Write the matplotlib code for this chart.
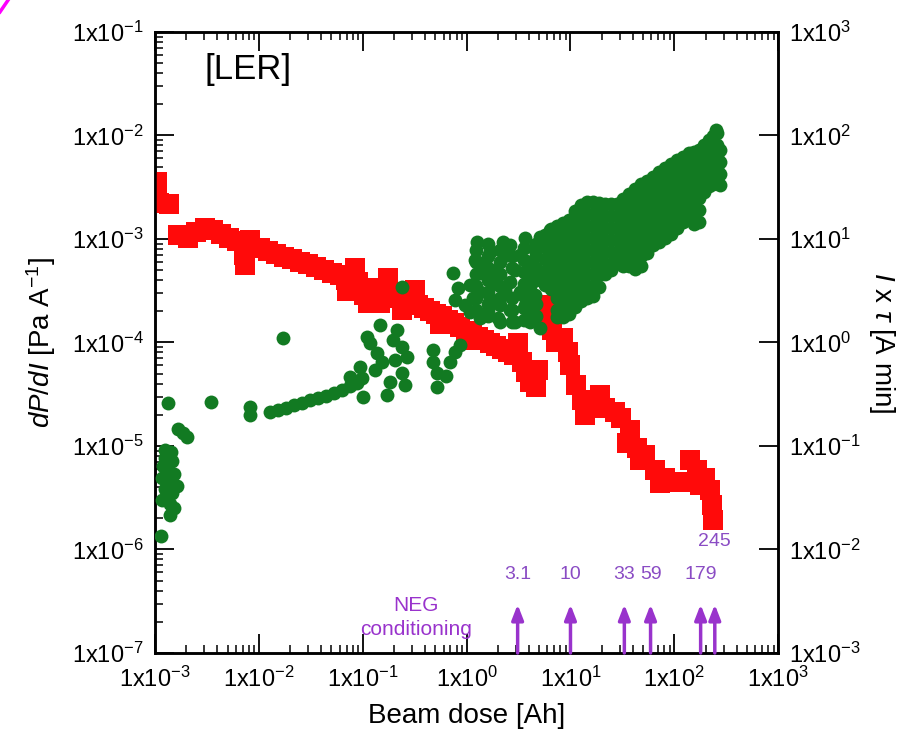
import matplotlib
matplotlib.use('Agg')
import matplotlib.pyplot as plt
import numpy as np
from matplotlib.lines import Line2D
from matplotlib.ticker import FixedLocator, FuncFormatter, NullLocator

plt.rcParams['font.family'] = ['Liberation Sans', 'DejaVu Sans']
plt.rcParams['mathtext.fontset'] = 'custom'
plt.rcParams['mathtext.rm'] = 'Liberation Sans'
plt.rcParams['mathtext.it'] = 'Liberation Sans:italic'

# values, stored as log10 (log-log chart)
# dP/dI [Pa/A] vs beam dose [Ah], red squares, left axis
red_log_dose = [
    -2.981, -2.981, -2.962, -2.865, -2.778, -2.682, -2.605, -2.518, -2.441,
    -2.364, -2.287, -2.210, -2.143, -2.133, -2.085, -2.056, -1.988, -1.911,
    -1.834, -1.757, -1.680, -1.603, -1.526, -1.449, -1.372, -1.295, -1.218,
    -1.160, -1.150, -1.073, -1.044, -0.987, -0.948, -0.909, -0.852, -0.794,
    -0.756, -0.717, -0.659, -0.601, -0.543, -0.495, -0.466, -0.408, -0.351,
    -0.293, -0.235, -0.177, -0.119, -0.062, -0.004, 0.054, 0.112, 0.170,
    0.227, 0.285, 0.343, 0.401, 0.459, 0.497, 0.536, 0.574, 0.613, 0.671,
    0.757, 0.767, 0.825, 0.863, 0.931, 0.979, 0.998, 1.056, 1.113, 1.171,
    1.239, 1.335, 1.431, 1.489, 1.547, 1.643, 1.720, 1.817, 1.913, 2.009,
    2.106, 2.154, 2.221, 2.298, 2.347, 2.366, 2.375,
    -0.833, -0.620, -0.254, 0.035, 0.690,
    1.287, 1.143, 1.576, 1.671, 1.865, 2.250,
]
red_log_dpdi = [
    -2.449, -2.575, -2.652, -2.662, -2.961, -2.990, -2.932, -2.894, -2.913,
    -2.952, -2.990, -3.019, -3.155, -3.251, -3.010, -3.087, -3.087, -3.116,
    -3.145, -3.174, -3.193, -3.222, -3.242, -3.271, -3.300, -3.329, -3.348,
    -3.396, -3.502, -3.280, -3.415, -3.541, -3.618, -3.473, -3.522, -3.512,
    -3.377, -3.551, -3.570, -3.589, -3.618, -3.493, -3.638, -3.667, -3.696,
    -3.725, -3.744, -3.783, -3.812, -3.850, -3.889, -3.918, -3.947, -3.976,
    -4.005, -4.034, -4.063, -4.092, -4.121, -4.005, -4.188, -4.285, -4.382,
    -4.430, -3.638, -3.763, -3.879, -3.995, -3.957, -4.092, -4.217, -4.411,
    -4.556, -4.633, -4.604, -4.633, -4.671, -4.729, -4.971, -5.019, -5.087,
    -5.232, -5.309, -5.348, -5.348, -5.135, -5.232, -5.309, -5.425, -5.570,
    -5.715,
    -3.618, -3.686, -3.821, -3.976, -4.266,
    -4.507, -4.701, -4.846, -5.136, -5.358, -5.377,
]

# I x tau [A min] vs beam dose [Ah], green circles, right axis
green_log_dose = [
    # early doses
    -2.875, -2.461, -2.085, -2.085, -1.767, -2.779, -2.731, -2.692,
    -2.904, -2.846, -2.904, -2.836, -2.923, -2.875, -2.817, -2.933, -2.856,
    -2.788, -2.904, -2.836, -2.875, -2.933, -2.856, -2.817, -2.856, -2.942,
    # rising band
    -1.892, -1.815, -1.738, -1.661, -1.584, -1.507, -1.430, -1.353, -1.276,
    -1.199, -1.121, -1.054, -1.006,
    # cluster around 0.1 Ah
    -0.958, -0.833, -0.669, -0.620, -0.572, -0.620, -0.736, -0.765, -0.997,
    -1.121, -1.025, -0.861, -0.929, -0.707, -0.881, -0.813, -0.688, -0.620,
    -0.592,
    -0.322, -0.322, -0.283, -0.283, -0.197, -0.158, -0.110, -0.062,
    # around 1 Ah
    -0.129, -0.081, -0.110, -0.013, 0.035, 0.131, 0.064, 0.131, 0.227,
    0.324, 0.420, 0.372, 0.275, 0.131, 0.083, 0.102, 0.352, 0.564, 0.709,
    0.805, 0.854, 0.786, 0.709, 0.613, 0.516, 0.564, 0.468, 0.324, 0.227,
    0.391, 0.516, 0.661, 0.757, 0.420, 0.227, 0.035, 0.468, 0.584, 0.632,
    0.709,
    0.179, 0.294, 0.420, 0.439, 0.208, 0.304, 0.632, 0.661,
    0.613, 0.613, 0.613, 0.613, 0.613, 0.613,
    0.092, 0.092, 0.092, 0.092, 0.092, 0.092,
    0.208, 0.208, 0.208, 0.208, 0.208, 0.208, 0.208,
    0.324, 0.324, 0.324, 0.324, 0.324,
    0.439, 0.439, 0.439, 0.439,
    0.554, 0.554, 0.554, 0.554, 0.554, 0.554, 0.554,
    0.670, 0.670, 0.670, 0.670, 0.670, 0.670,
    # main cloud
    0.757, 0.757, 0.757, 0.757, 0.757,
    0.815, 0.815, 0.815, 0.815, 0.815, 0.815,
    0.872, 0.872, 0.872, 0.872, 0.872, 0.872, 0.872, 0.872, 0.872,
    0.931, 0.931, 0.931, 0.931, 0.931, 0.931, 0.931, 0.931, 0.931,
    0.988, 0.988, 0.988, 0.988, 0.988, 0.988, 0.988, 0.988, 0.988,
    1.046, 1.046, 1.046, 1.046, 1.046, 1.046, 1.046, 1.046, 1.046,
    1.104, 1.104, 1.104, 1.104, 1.104, 1.104, 1.104, 1.104, 1.104,
    1.162, 1.162, 1.162, 1.162, 1.162, 1.162, 1.162, 1.162, 1.162,
    1.219, 1.219, 1.219, 1.219, 1.219, 1.219, 1.219, 1.219, 1.219,
    1.277, 1.277, 1.277, 1.277, 1.277, 1.277, 1.277, 1.277,
    1.335, 1.335, 1.335, 1.335, 1.335, 1.335, 1.335,
    1.393, 1.393, 1.393, 1.393, 1.393, 1.393, 1.393,
    1.450, 1.450, 1.450, 1.450, 1.450, 1.450,
    1.509, 1.509, 1.509, 1.509, 1.509, 1.509, 1.509,
    1.566, 1.566, 1.566, 1.566, 1.566, 1.566, 1.566,
    1.624, 1.624, 1.624, 1.624, 1.624, 1.624, 1.624, 1.624,
    1.682, 1.682, 1.682, 1.682, 1.682, 1.682, 1.682, 1.682,
    1.740, 1.740, 1.740, 1.740, 1.740, 1.740, 1.740,
    1.797, 1.797, 1.797, 1.797, 1.797, 1.797, 1.797,
    1.855, 1.855, 1.855, 1.855, 1.855, 1.855, 1.855,
    1.913, 1.913, 1.913, 1.913, 1.913, 1.913, 1.913,
    1.971, 1.971, 1.971, 1.971, 1.971, 1.971, 1.971,
    2.028, 2.028, 2.028, 2.028, 2.028, 2.028, 2.028,
    2.087, 2.087, 2.087, 2.087, 2.087, 2.087, 2.087,
    2.144, 2.144, 2.144, 2.144, 2.144, 2.144,
    2.193, 2.193, 2.193, 2.193, 2.193, 2.193, 2.193,
    2.240, 2.240, 2.240, 2.240, 2.240, 2.240, 2.240,
    2.289, 2.289, 2.289, 2.289, 2.289,
    2.337, 2.337, 2.337, 2.337, 2.337,
    2.376, 2.376, 2.376, 2.376, 2.376,
    2.414, 2.414, 2.414, 2.414, 2.414,
    2.443, 2.443, 2.443, 2.443, 2.405,
]
green_log_itau = [
    -0.585, -0.575, -0.623, -0.700, 0.043, -0.836, -0.874, -0.913,
    -1.039, -1.058, -1.116, -1.145, -1.193, -1.232, -1.271, -1.309, -1.348,
    -1.386, -1.415, -1.454, -1.493, -1.522, -1.560, -1.599, -1.667, -1.870,
    -0.671, -0.652, -0.633, -0.604, -0.585, -0.556, -0.536, -0.517, -0.488,
    -0.459, -0.420, -0.391, -0.343,
    0.053, 0.169, 0.121, -0.043, -0.140, -0.295, -0.382, -0.507, -0.527,
    -0.333, -0.237, -0.101, -0.005, 0.024, -0.266, -0.188, -0.169, 0.536,
    -0.411,
    -0.072, -0.188, -0.295, -0.430, -0.324, -0.188, -0.092, -0.024,
    0.671, 0.527, 0.411, 0.362, 0.295, 0.237, 0.430, 0.488, 0.411,
    0.362, 0.314, 0.507, 0.575, 0.671, 0.797, 0.971, 0.971, 1.010, 1.019,
    1.087, 0.942, 0.797, 0.681, 0.585, 0.488, 0.362, 0.700, 0.778, 0.874,
    0.845, 0.845, 0.894, 0.555, 0.942, 0.700, 0.556, 0.198, 0.217, 0.314,
    0.140,
    0.778, 0.681, 0.584, 0.430, 0.314, 0.237, 0.778, 0.459,
    0.778, 0.662, 0.546, 0.430, 0.314, 0.198,
    0.894, 0.778, 0.662, 0.546, 0.430, 0.314,
    0.952, 0.836, 0.720, 0.604, 0.488, 0.372, 0.256,
    0.894, 0.662, 0.546, 0.430, 0.198,
    0.836, 0.720, 0.314, 0.198,
    0.913, 0.797, 0.681, 0.565, 0.449, 0.333, 0.217,
    0.952, 0.836, 0.720, 0.604, 0.372, 0.256,
    1.038, 0.923, 0.807, 0.691, 0.575,
    1.096, 0.980, 0.865, 0.749, 0.633, 0.517,
    1.125, 1.010, 0.894, 0.778, 0.662, 0.546, 0.430, 0.314, 0.246,
    1.154, 1.038, 0.923, 0.807, 0.691, 0.575, 0.459, 0.343, 0.246,
    1.183, 1.068, 0.952, 0.836, 0.720, 0.604, 0.488, 0.372, 0.275,
    1.270, 1.154, 1.038, 0.923, 0.807, 0.691, 0.575, 0.459, 0.343,
    1.328, 1.212, 1.096, 0.980, 0.865, 0.749, 0.633, 0.517, 0.401,
    1.357, 1.241, 1.125, 1.010, 0.894, 0.778, 0.662, 0.546, 0.430,
    1.357, 1.241, 1.125, 1.010, 0.894, 0.778, 0.662, 0.546, 0.449,
    1.348, 1.232, 1.116, 1.000, 0.884, 0.768, 0.652, 0.536,
    1.338, 1.222, 1.106, 0.990, 0.874, 0.758, 0.662,
    1.338, 1.222, 1.106, 0.990, 0.874, 0.758, 0.700,
    1.338, 1.222, 1.106, 0.990, 0.874, 0.778,
    1.386, 1.270, 1.154, 1.038, 0.923, 0.807, 0.739,
    1.435, 1.319, 1.203, 1.087, 0.971, 0.855, 0.739,
    1.483, 1.367, 1.251, 1.135, 1.019, 0.903, 0.787, 0.710,
    1.531, 1.415, 1.299, 1.183, 1.068, 0.952, 0.836, 0.739,
    1.560, 1.444, 1.328, 1.212, 1.096, 0.980, 0.865,
    1.599, 1.483, 1.367, 1.251, 1.135, 1.019, 0.942,
    1.647, 1.531, 1.415, 1.299, 1.183, 1.068, 0.971,
    1.686, 1.570, 1.454, 1.338, 1.222, 1.106, 1.010,
    1.724, 1.608, 1.492, 1.377, 1.261, 1.145, 1.048,
    1.763, 1.647, 1.531, 1.415, 1.299, 1.203, 1.106,
    1.792, 1.676, 1.560, 1.444, 1.328, 1.212, 1.164,
    1.831, 1.715, 1.599, 1.483, 1.367, 1.251,
    1.840, 1.724, 1.608, 1.492, 1.377, 1.261, 1.145,
    1.860, 1.744, 1.628, 1.512, 1.396, 1.280, 1.164,
    1.908, 1.792, 1.676, 1.560, 1.454,
    1.956, 1.840, 1.724, 1.608, 1.512,
    1.995, 1.879, 1.763, 1.647, 1.531,
    2.024, 1.908, 1.792, 1.676, 1.570,
    1.860, 1.744, 1.628, 1.522, 2.053,
]

# NEG conditioning doses [Ah]
neg_doses = [3.1, 10, 33, 59, 179, 245]
neg_labels = ['3.1', '10', '33', '59', '179', '245']

red = '#ff0a0a'
green = '#127a22'
purple = '#9933cc'
label_purple = '#8a4cc4'


def pow_label(v, pos):
    return r'1x10$^{%d}$' % int(round(np.log10(v)))


fig = plt.figure(figsize=(9.06, 7.46), dpi=100)
ax = fig.add_axes([0.171, 0.1247, 0.688, 0.8326])
ax2 = ax.twinx()

ax.scatter(10 ** np.array(red_log_dose), 10 ** np.array(red_log_dpdi),
           marker='s', s=200, color=red, linewidths=0, zorder=3)
ax2.scatter(10 ** np.array(green_log_dose), 10 ** np.array(green_log_itau),
            marker='o', s=100, color=green, linewidths=0, zorder=3)

ax.set_xscale('log')
ax.set_yscale('log')
ax2.set_yscale('log')
ax.set_xlim(1e-3, 1e3)
ax.set_ylim(1e-7, 1e-1)
ax2.set_ylim(1e-3, 1e3)

decades_x = 10.0 ** np.arange(-3, 4)
decades_l = 10.0 ** np.arange(-7, 0)
decades_r = 10.0 ** np.arange(-3, 4)
minor_x = [m * d for d in decades_x[:-1] for m in range(2, 10)]
minor_l = [m * d for d in decades_l[:-1] for m in range(2, 10)]

fmt = FuncFormatter(pow_label)
for a in (ax, ax2):
    for sp in a.spines.values():
        sp.set_linewidth(1.8)
ax.xaxis.set_major_locator(FixedLocator(decades_x))
ax.xaxis.set_minor_locator(FixedLocator(minor_x))
ax.yaxis.set_major_locator(FixedLocator(decades_l))
ax.yaxis.set_minor_locator(FixedLocator(minor_l))
ax.xaxis.set_major_formatter(fmt)
ax.yaxis.set_major_formatter(fmt)
ax2.yaxis.set_major_locator(FixedLocator(decades_r))
ax2.yaxis.set_minor_locator(NullLocator())
ax2.yaxis.set_major_formatter(fmt)

ax.tick_params(axis='both', which='major', direction='in', length=14, width=1.3,
               labelsize=17, pad=8, top=True, right=False)
ax.tick_params(axis='both', which='minor', direction='in', length=6, width=1.1,
               top=True, right=False)
ax.tick_params(axis='x', which='major', pad=10)
ax2.tick_params(axis='y', which='major', direction='in', length=14, width=1.3,
                labelsize=17, pad=8)

ax.set_xlabel('Beam dose [Ah]', fontsize=20, labelpad=8)
ax.set_ylabel(r'$dP/dI$ [Pa A$^{-1}$]', fontsize=20, labelpad=10)
ax2.set_ylabel(r'$I$ x $\tau$ [A min]', fontsize=20, rotation=270, labelpad=26)

ax.text(0.149, 0.939, '[LER]', transform=ax.transAxes, fontsize=25,
        ha='center', va='center')

# NEG conditioning markers
for d, lab in zip(neg_doses, neg_labels):
    ax2.annotate('', xy=(d, 0.078), xytext=(d, 0.0),
                 xycoords=('data', 'axes fraction'),
                 textcoords=('data', 'axes fraction'),
                 arrowprops=dict(arrowstyle='-|>,head_length=0.9,head_width=0.35',
                                 color=purple, lw=2.5, shrinkA=0, shrinkB=0),
                 zorder=5)
    yl = 0.18 if lab == '245' else 0.126
    ax2.text(d, yl, lab, transform=ax2.get_xaxis_transform(), fontsize=14,
             color=label_purple, ha='center', va='center', zorder=5)
ax2.text(0.419, 0.077, 'NEG', transform=ax.transAxes, fontsize=15,
         color=purple, ha='center', va='center')
ax2.text(0.419, 0.037, 'conditioning', transform=ax.transAxes, fontsize=15,
         color=purple, ha='center', va='center')

# stray magenta stroke in the top-left corner
fig.add_artist(Line2D([0.0, 0.009], [0.984, 1.0], transform=fig.transFigure,
                      color='#ff00ff', lw=2.5))

fig.savefig('out.png', dpi=100)
